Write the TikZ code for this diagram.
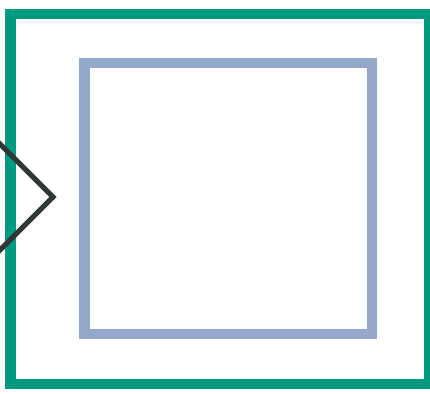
\documentclass[tikz,border=0pt]{standalone}
\usepackage{xcolor}
\definecolor{frameGreen}{HTML}{009A80}
\definecolor{boxBlue}{HTML}{94A8CC}
\definecolor{chevGray}{HTML}{333637}

\begin{document}
\begin{tikzpicture}[
        x=1pt, y=-1pt,
        outerframe/.style={draw=frameGreen, line width=10.5pt},
        innerbox/.style={draw=boxBlue, line width=10.5pt},
        chevron/.style={draw=chevGray, line width=5pt, miter limit=10}
    ]

    % Feste Bildgroesse
    \useasboundingbox (0,0) rectangle (430,393);
    \clip (0,0) rectangle (430,393);

    % Rahmen aussen und innen
    \draw [outerframe] (10.5,13.8) rectangle (429,384);
    \draw [innerbox]   (84.5,62.8) rectangle (372,334);

    % Pfeilspitze links
    \coordinate (tip) at (53,197);
    \draw [chevron] (-10,134) -- (tip) -- (-10,260);

\end{tikzpicture}
\end{document}
